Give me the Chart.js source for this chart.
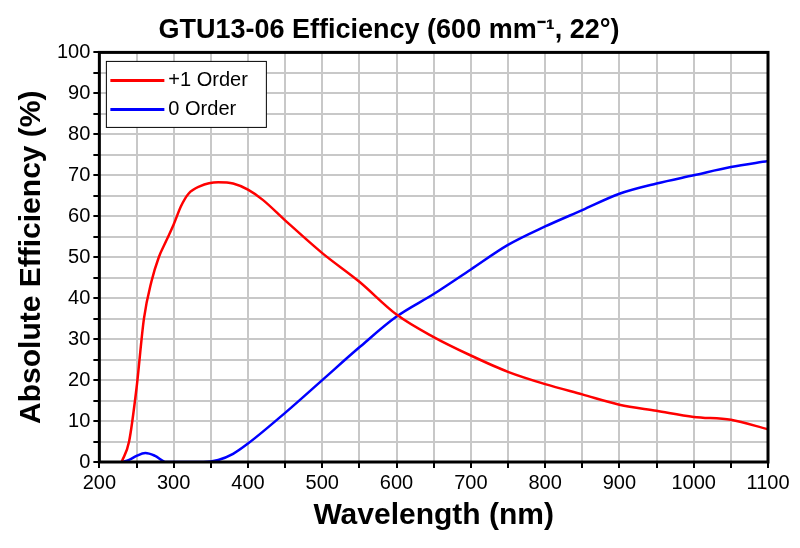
<!DOCTYPE html>
<html>
<head>
<script src="https://cdn.jsdelivr.net/npm/chart.js@4"></script>
<style>
body { margin: 0; background: white; }
#wrap { width: 800px; height: 548px; }
</style>
</head>
<body>
<div id="wrap"><canvas id="effChart"></canvas></div>
<script>
const chartTitle = 'GTU13-06 Efficiency (600 mm\u207B\u00B9, 22\u00B0)';
const seriesNames = ['+1 Order', '0 Order'];
const seriesColors = ['#ff0000', '#0000ff'];

const orderPlus1X = [230, 240, 250, 260, 270, 280, 290, 300, 310, 320, 335, 360, 380, 400, 420, 450, 500, 550, 600, 650, 700, 750, 800, 850, 900, 950, 1000, 1050, 1100];
const orderPlus1Y = [0, 5, 18, 35, 44, 50, 54, 58, 62.5, 65.5, 67.3, 68.3, 68, 66.5, 64, 59, 51, 44, 36, 30.5, 26, 22, 19, 16.5, 14, 12.5, 11, 10.3, 8];

const order0X = [230, 240, 250, 262, 275, 290, 340, 360, 380, 400, 450, 500, 550, 600, 650, 700, 750, 800, 850, 900, 950, 1000, 1050, 1100];
const order0Y = [0, 0.5, 1.5, 2.2, 1.5, 0, 0, 0.5, 2, 4.5, 12, 20, 28, 35.5, 41, 47, 53, 57.5, 61.5, 65.5, 68, 70, 72, 73.5];

const toPoints = (xs, ys) => xs.map((x, i) => ({ x: x, y: ys[i] }));

// legend box + frame drawn inside the plot
const boxPlugin = {
    id: 'boxPlugin',
    afterDraw(chart) {
        const ctx = chart.ctx;
        const a = chart.chartArea;
        ctx.save();
        ctx.strokeStyle = 'black';
        ctx.lineWidth = 3;
        ctx.strokeRect(a.left, a.top, a.right - a.left, a.bottom - a.top);

        const bx = a.left + 7, by = a.top + 9, bw = 160, bh = 66;
        ctx.fillStyle = 'white';
        ctx.fillRect(bx, by, bw, bh);
        ctx.lineWidth = 1;
        ctx.strokeRect(bx, by, bw, bh);
        ctx.font = '20px Arial, "Liberation Sans"';
        ctx.textBaseline = 'middle';
        seriesNames.forEach((name, i) => {
            const yy = by + 19 + i * 29;
            ctx.strokeStyle = seriesColors[i];
            ctx.lineWidth = 3;
            ctx.beginPath();
            ctx.moveTo(bx + 4, yy);
            ctx.lineTo(bx + 58, yy);
            ctx.stroke();
            ctx.fillStyle = 'black';
            ctx.fillText(name, bx + 62, yy);
        });
        ctx.restore();
    }
};

const ctx = document.getElementById('effChart').getContext('2d');
new Chart(ctx, {
    type: 'scatter',
    data: {
        datasets: [{
            label: seriesNames[0],
            data: toPoints(orderPlus1X, orderPlus1Y),
            borderColor: seriesColors[0],
            showLine: true,
            borderWidth: 2.5,
            pointRadius: 0,
            cubicInterpolationMode: 'monotone'
        },
        {
            label: seriesNames[1],
            data: toPoints(order0X, order0Y),
            borderColor: seriesColors[1],
            showLine: true,
            borderWidth: 2.5,
            pointRadius: 0,
            cubicInterpolationMode: 'monotone'
        }]
    },
    options: {
        responsive: true,
        maintainAspectRatio: false,
        animation: false,
        layout: { padding: { top: 14, right: 32, left: 10, bottom: 10 } },
        plugins: {
            legend: { display: false },
            tooltip: { enabled: false },
            title: {
                display: true,
                text: chartTitle,
                color: 'black',
                font: { family: 'Arial, "Liberation Sans"', size: 27, weight: 'bold' },
                padding: { top: 0, bottom: 6 }
            }
        },
        scales: {
            x: {
                type: 'linear',
                min: 200,
                max: 1100,
                ticks: {
                    stepSize: 50,
                    color: 'black',
                    font: { family: 'Arial, "Liberation Sans"', size: 20 },
                    maxRotation: 0,
                    autoSkip: false,
                    callback: v => (v % 100 === 0 ? v : '')
                },
                grid: { color: '#c8c8c8', lineWidth: 2, tickColor: 'black', tickLength: 6 },
                border: { display: false },
                title: {
                    display: true,
                    text: 'Wavelength (nm)',
                    color: 'black',
                    font: { family: 'Arial, "Liberation Sans"', size: 30, weight: 'bold' },
                    padding: { top: 0 }
                }
            },
            y: {
                min: 0,
                max: 100,
                ticks: {
                    stepSize: 5,
                    color: 'black',
                    font: { family: 'Arial, "Liberation Sans"', size: 20 },
                    autoSkip: false,
                    callback: v => (v % 10 === 0 ? v : '')
                },
                grid: { color: '#c8c8c8', lineWidth: 2, tickColor: 'black', tickLength: 6 },
                border: { display: false },
                title: {
                    display: true,
                    text: 'Absolute Efficiency (%)',
                    color: 'black',
                    font: { family: 'Arial, "Liberation Sans"', size: 30, weight: 'bold' },
                    padding: { bottom: 4 }
                }
            }
        }
    },
    plugins: [boxPlugin]
});
</script>
</body>
</html>
